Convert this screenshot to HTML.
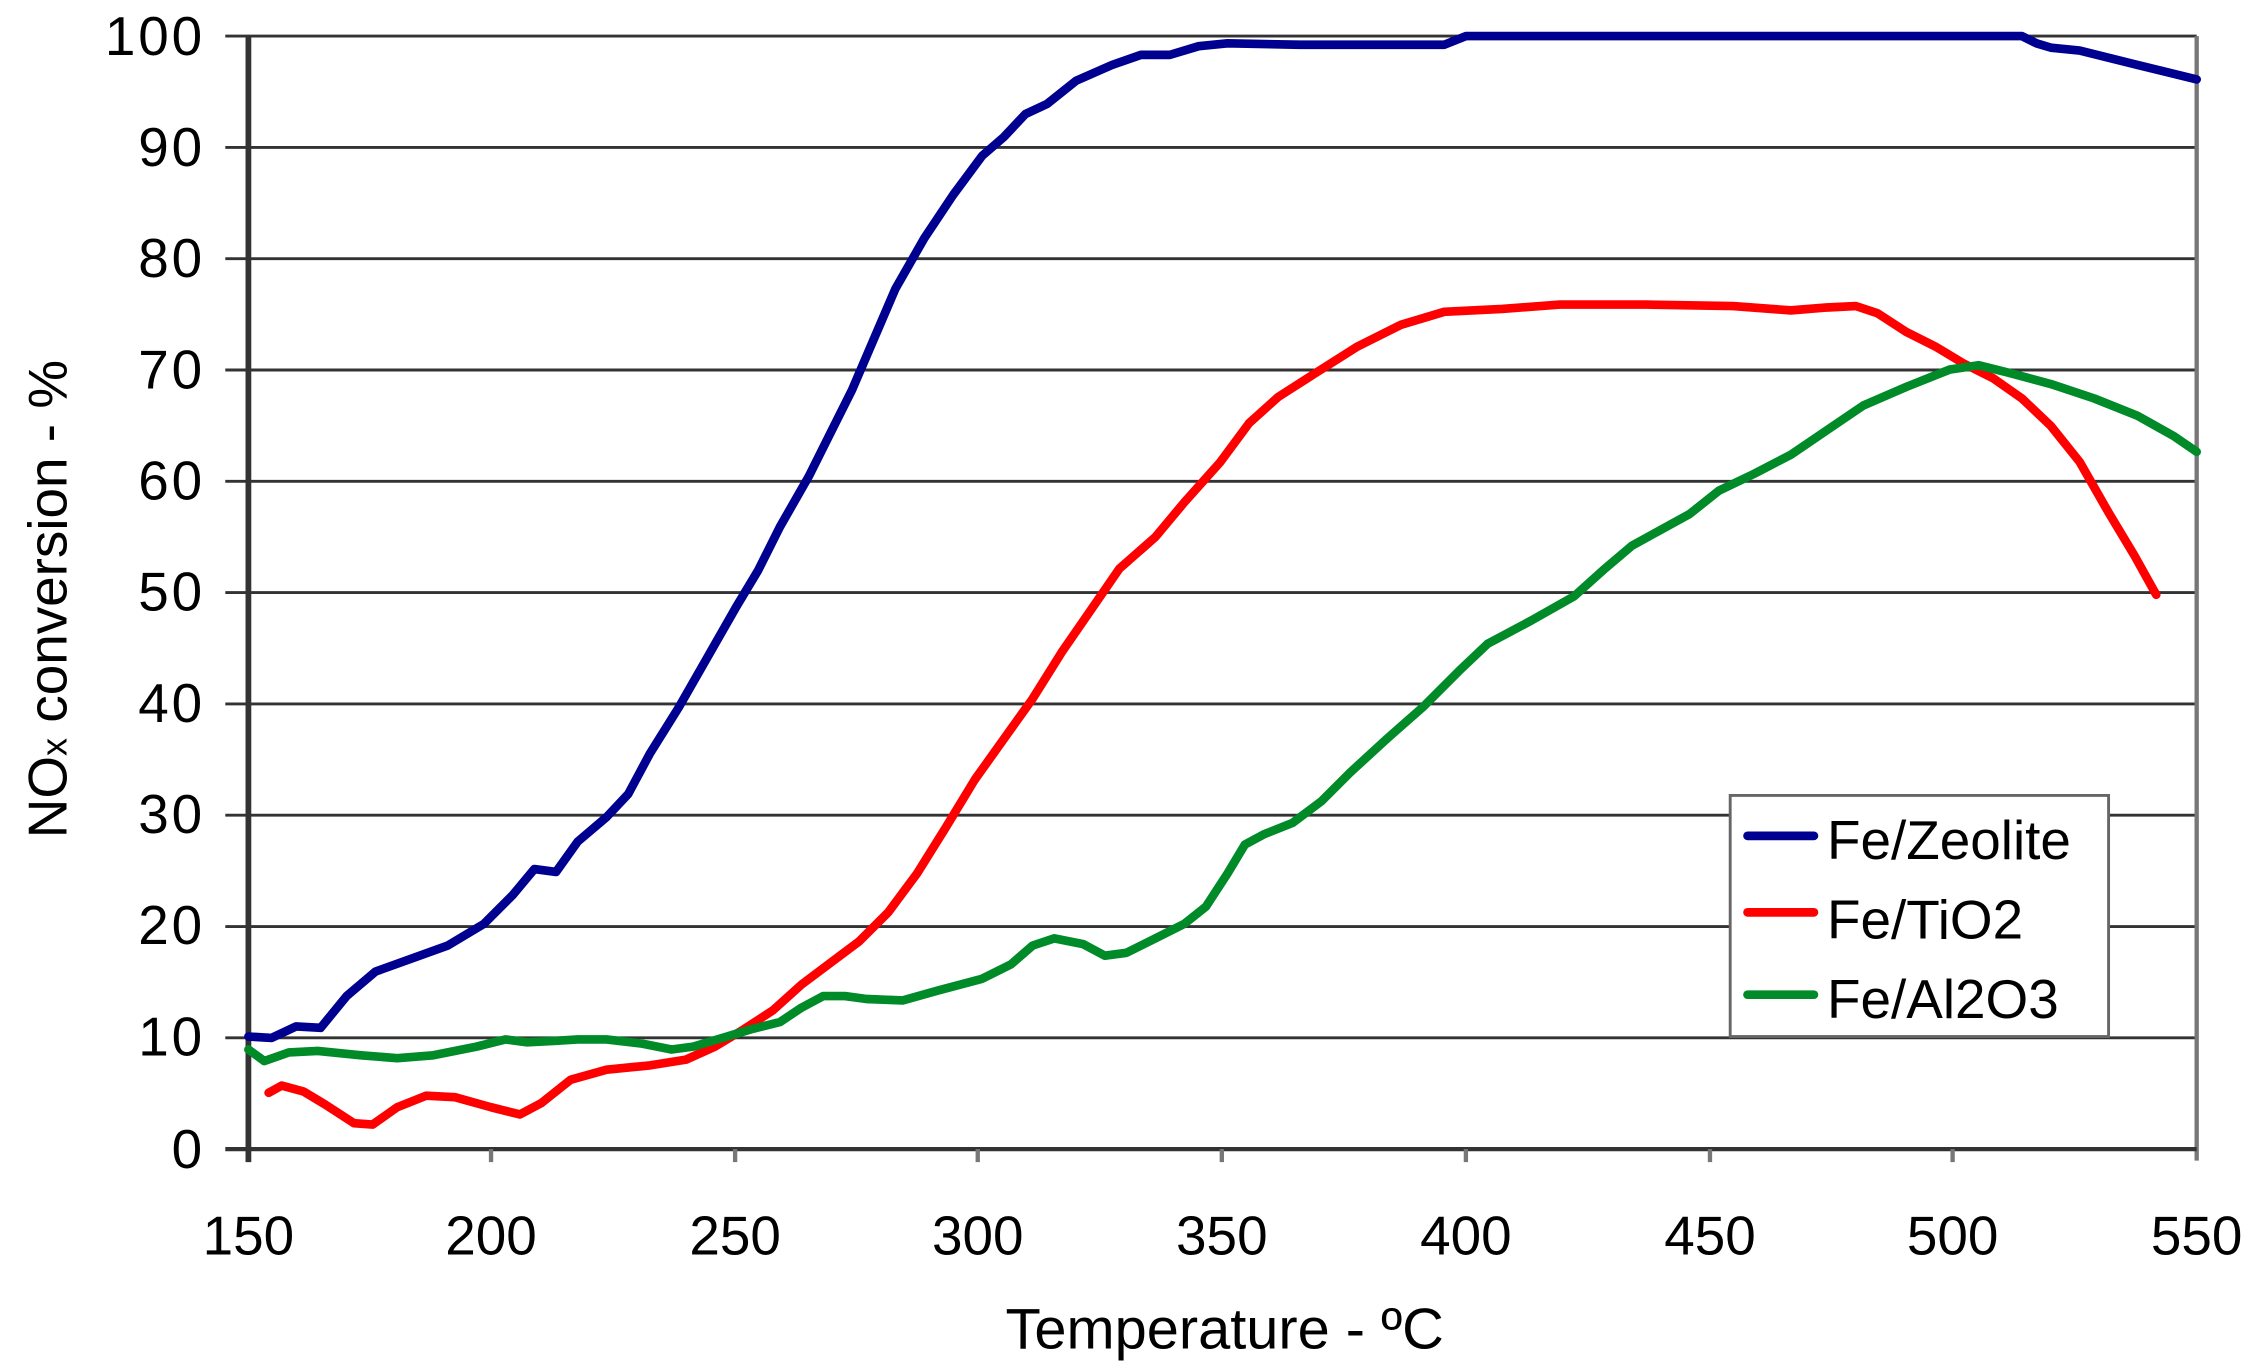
<!DOCTYPE html>
<html><head><meta charset="utf-8"><style>
html,body{margin:0;padding:0;background:#fff;}
svg{display:block;}
text{font-family:"Liberation Sans",Arial,sans-serif;fill:#000;}
</style></head><body>
<svg width="2253" height="1370" viewBox="0 0 1560 949" preserveAspectRatio="none" xmlns="http://www.w3.org/2000/svg">
<g stroke="#333" stroke-width="2">
<line x1="156" y1="25" x2="1521" y2="25"/>
<line x1="156" y1="102.1" x2="1521" y2="102.1"/>
<line x1="156" y1="179.2" x2="1521" y2="179.2"/>
<line x1="156" y1="256.3" x2="1521" y2="256.3"/>
<line x1="156" y1="333.4" x2="1521" y2="333.4"/>
<line x1="156" y1="410.5" x2="1521" y2="410.5"/>
<line x1="156" y1="487.6" x2="1521" y2="487.6"/>
<line x1="156" y1="564.7" x2="1521" y2="564.7"/>
<line x1="156" y1="641.8" x2="1521" y2="641.8"/>
<line x1="156" y1="718.9" x2="1521" y2="718.9"/>
</g>
<line x1="1521" y1="25" x2="1521" y2="804" stroke="#777" stroke-width="3"/>
<line x1="156" y1="796" x2="1521" y2="796" stroke="#333" stroke-width="3"/>
<g stroke="#777" stroke-width="3">
<line x1="340" y1="796" x2="340" y2="805"/><line x1="509" y1="796" x2="509" y2="805"/>
<line x1="677" y1="796" x2="677" y2="805"/><line x1="846" y1="796" x2="846" y2="805"/>
<line x1="1015" y1="796" x2="1015" y2="805"/><line x1="1184" y1="796" x2="1184" y2="805"/>
<line x1="1352" y1="796" x2="1352" y2="805"/>
</g>
<line x1="172" y1="25" x2="172" y2="805" stroke="#333" stroke-width="4"/>
<g font-size="38" text-anchor="end" letter-spacing="2">
<text x="142" y="38">100</text><text x="142" y="115">90</text><text x="142" y="192">80</text>
<text x="142" y="269">70</text><text x="142" y="346">60</text><text x="142" y="423">50</text>
<text x="142" y="500">40</text><text x="142" y="577">30</text><text x="142" y="654">20</text>
<text x="142" y="731">10</text><text x="142" y="809">0</text>
</g>
<g font-size="38" text-anchor="middle">
<text x="172" y="869">150</text><text x="340" y="869">200</text><text x="509" y="869">250</text>
<text x="677" y="869">300</text><text x="846" y="869">350</text><text x="1015" y="869">400</text>
<text x="1184" y="869">450</text><text x="1352" y="869">500</text><text x="1521" y="869">550</text>
</g>
<text x="848" y="934" font-size="40" text-anchor="middle">Temperature - ºC</text>
<text transform="translate(46,415) rotate(-90)" font-size="38" text-anchor="middle">NO<tspan font-size="25">x</tspan> conversion - %</text>
<g fill="none" stroke-width="6" stroke-linejoin="round" stroke-linecap="round">
<polyline stroke="#ff0000" points="186,757 195,752 210,756 225,765 245,778 258,779 275,767 295,759 315,760 340,767 360,772 375,764 395,748 420,741 450,738 475,734 495,725 515,713 535,700 555,682 575,667 595,652 615,632 635,605 655,573 675,540 700,505 715,484 735,452 755,423 775,394 800,372 820,348 845,320 865,293 885,275 910,259 940,240 970,225 1000,216 1040,214 1080,211 1140,211 1200,212 1240,215 1265,213 1285,212 1300,217 1320,230 1340,240 1360,252 1380,262 1400,276 1420,295 1440,320 1460,355 1478,385 1493,412"/>
<polyline stroke="#008a28" points="172,727 183,735 200,729 220,728 250,731 275,733 300,731 330,725 350,720 365,722 385,721 400,720 420,720 445,723 465,727 480,725 500,719 520,713 540,708 555,698 570,690 585,690 600,692 625,693 650,686 680,678 700,668 715,655 730,650 750,654 765,662 780,660 800,650 820,640 835,628 850,605 862,585 875,578 895,570 915,555 935,535 960,512 985,490 1010,465 1030,446 1060,430 1090,413 1110,395 1130,378 1150,367 1170,356 1190,340 1215,328 1240,315 1265,298 1290,281 1320,268 1350,256 1370,253 1390,258 1420,266 1450,276 1480,288 1505,302 1521,313"/>
<polyline stroke="#000090" points="172,718 188,719 205,711 222,712 240,690 260,673 285,664 310,655 335,640 355,620 370,602 385,604 400,583 420,566 435,550 450,522 470,490 490,455 510,420 525,395 540,365 560,330 575,300 590,270 605,235 620,200 640,165 660,135 680,108 695,95 710,79 725,72 745,56 770,45 790,38 810,38 830,32 850,30 900,31 1000,31 1015,25 1100,25 1400,25 1410,30 1420,33 1440,35 1480,45 1521,55"/>
</g>
<rect x="1198" y="551" width="262" height="167" fill="#fff" stroke="#666" stroke-width="2"/>
<g stroke-width="6" stroke-linecap="round">
<line x1="1210" y1="579" x2="1256" y2="579" stroke="#000090"/>
<line x1="1210" y1="632" x2="1256" y2="632" stroke="#ff0000"/>
<line x1="1210" y1="689" x2="1256" y2="689" stroke="#008a28"/>
</g>
<g font-size="38">
<text x="1265" y="595">Fe/Zeolite</text>
<text x="1265" y="650">Fe/TiO2</text>
<text x="1265" y="705">Fe/Al2O3</text>
</g>
</svg>
</body></html>
